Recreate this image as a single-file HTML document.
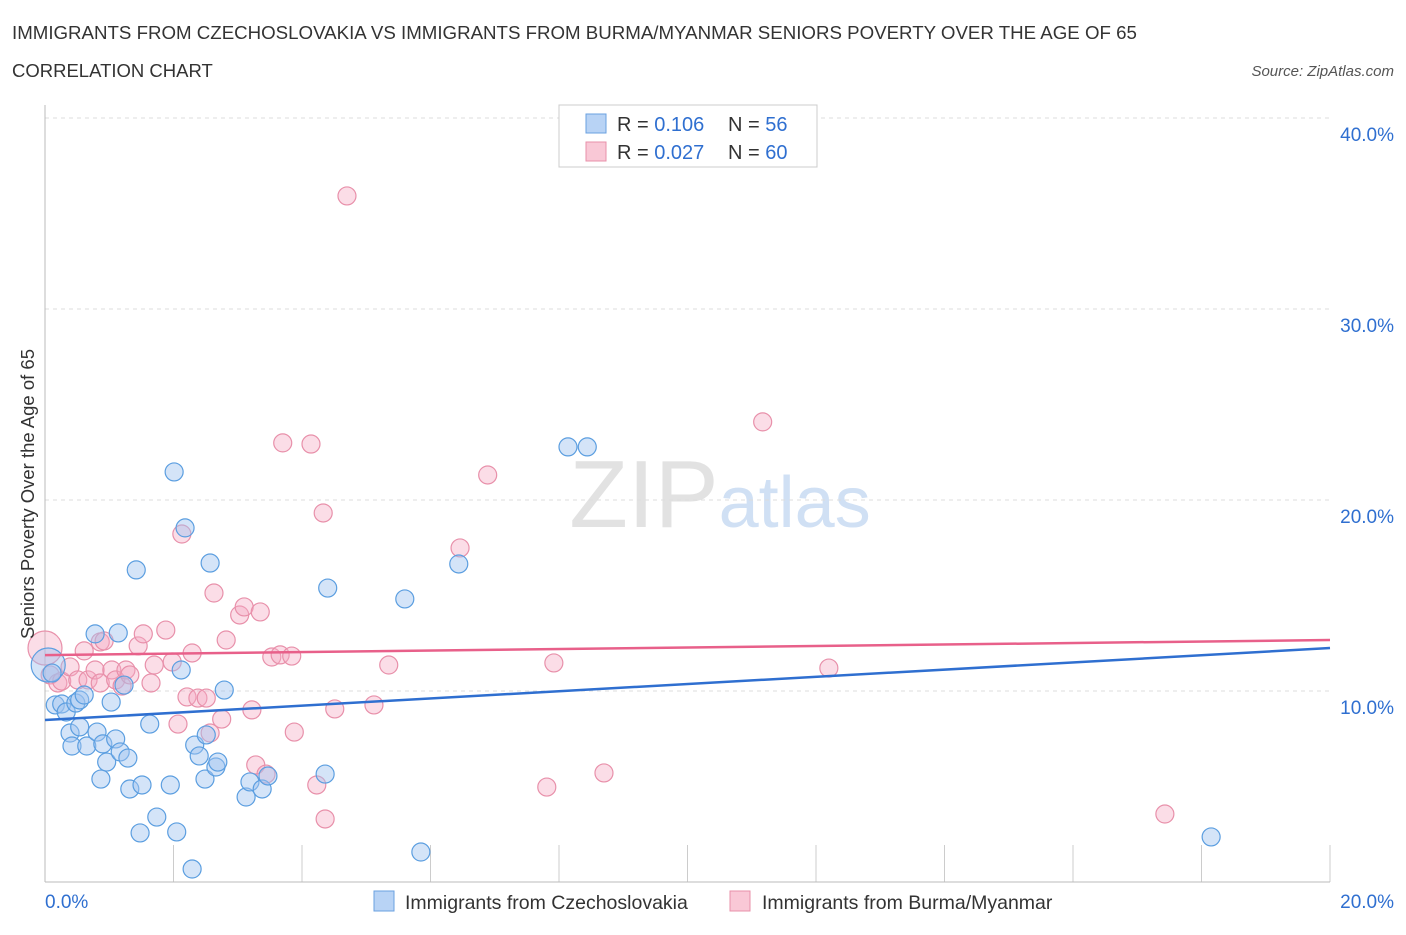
<!DOCTYPE html>
<html><head><meta charset="utf-8"><style>
body{margin:0;background:#fff;font-family:"Liberation Sans",sans-serif;}
svg text{font-family:"Liberation Sans",sans-serif;}
</style></head><body>
<svg id="chart" width="1406" height="930" xmlns="http://www.w3.org/2000/svg">
<text x="12" y="39" font-size="18.7" fill="#333">IMMIGRANTS FROM CZECHOSLOVAKIA VS IMMIGRANTS FROM BURMA/MYANMAR SENIORS POVERTY OVER THE AGE OF 65</text>
<text x="12" y="77" font-size="18.5" fill="#333">CORRELATION CHART</text>
<text x="1394" y="76" font-size="15" fill="#555" text-anchor="end" font-style="italic">Source: ZipAtlas.com</text>
<text x="720" y="527" font-size="96" fill="#e2e2e2" text-anchor="middle" font-family="Liberation Serif">ZIP<tspan fill="#d0e0f4" font-family="Liberation Sans" font-size="72">atlas</tspan></text>
<g id="grid"></g>
<g id="axes"></g>
<g id="marks"></g>
<text transform="translate(34,494) rotate(-90)" font-size="18.5" fill="#333" text-anchor="middle">Seniors Poverty Over the Age of 65</text>
<g>
<rect x="559" y="105" width="258" height="62" fill="#fff" stroke="#ccc"/>
<rect x="586" y="114" width="20" height="19" fill="#b8d3f5" stroke="#6aa0e0"/>
<rect x="586" y="142" width="20" height="19" fill="#f9c8d6" stroke="#e890aa"/>
<text x="617" y="131" font-size="20" fill="#333">R = <tspan fill="#2f6fd0">0.106</tspan><tspan x="728">N = </tspan><tspan fill="#2f6fd0">56</tspan></text>
<text x="617" y="159" font-size="20" fill="#333">R = <tspan fill="#2f6fd0">0.027</tspan><tspan x="728">N = </tspan><tspan fill="#2f6fd0">60</tspan></text>
</g>
<g>
<rect x="374" y="891" width="20" height="20" fill="#b8d3f5" stroke="#6aa0e0"/>
<text x="405" y="909" font-size="19.5" fill="#333">Immigrants from Czechoslovakia</text>
<rect x="730" y="891" width="20" height="20" fill="#f9c8d6" stroke="#e890aa"/>
<text x="762" y="909" font-size="19.5" fill="#333">Immigrants from Burma/Myanmar</text>
</g>
</svg>
<script>
const blueX=[.05,.11,.16,.26,.33,.39,.42,.48,.54,.54,.61,.65,.78,.81,.87,.90,.96,1.03,1.10,1.14,1.17,1.23,1.29,1.32,1.42,1.48,1.51,1.63,1.74,1.95,2.01,2.05,2.12,2.18,2.29,2.33,2.40,2.49,2.51,2.57,2.66,2.69,2.79,3.13,3.19,3.38,3.47,4.36,4.40,5.60,5.85,6.44,8.14,8.44,18.15];
const blueY=[11.36,10.94,9.27,9.32,8.90,7.80,7.12,9.37,9.53,8.12,9.79,7.12,12.99,7.85,5.39,7.23,6.28,9.42,7.49,13.04,6.81,10.31,6.49,4.87,16.34,2.57,5.08,8.27,3.40,5.08,21.47,2.62,11.10,18.54,0.68,7.17,6.60,5.39,7.70,16.70,6.02,6.28,10.05,4.45,5.24,4.87,5.55,5.65,15.39,14.82,1.57,16.65,22.78,22.78,2.36];
const pinkX=[0,.08,.20,.26,.39,.51,.61,.67,.78,.86,.86,.92,1.04,1.10,1.20,1.26,1.32,1.45,1.53,1.65,1.70,1.88,1.98,2.07,2.13,2.21,2.29,2.38,2.51,2.57,2.63,2.75,2.82,3.03,3.10,3.22,3.28,3.35,3.44,3.53,3.66,3.70,3.84,3.88,4.14,4.23,4.33,4.36,4.51,4.70,5.12,5.35,6.46,6.89,7.81,7.92,8.70,11.17,12.20,17.43];
const pinkY=[12.25,10.84,10.42,10.52,11.26,10.58,12.10,10.58,11.10,10.42,12.57,12.62,11.10,10.58,10.26,11.10,10.84,12.36,12.99,10.42,11.36,13.19,11.52,8.27,18.22,9.69,11.99,9.63,9.63,7.80,15.13,8.53,12.67,13.98,14.40,9.01,6.13,14.14,5.65,11.78,11.89,22.99,11.83,7.85,22.93,5.08,19.32,3.30,9.06,35.92,9.27,11.36,17.49,21.31,4.97,11.47,5.71,24.09,11.20,3.56];
const blueTrend=[8.48,12.25];
const pinkTrend=[11.88,12.67];
const yTicks=[10,20,30,40];
const xTickLabels=["0.0%","20.0%"];
const NS="http://www.w3.org/2000/svg";
const X0=45,X1=1330,Y0=882,YS=19.1;
const sx=v=>X0+(v/20)*(X1-X0);
const sy=v=>Y0-v*YS;
function mk(t,a,p){const e=document.createElementNS(NS,t);for(const k in a)e.setAttribute(k,a[k]);p.appendChild(e);return e;}
const grid=document.getElementById('grid'),axes=document.getElementById('axes'),marks=document.getElementById('marks');
yTicks.forEach(t=>{
  const l=mk('line',{x1:X0,x2:X1,y1:sy(t),y2:sy(t),stroke:'#ddd','stroke-dasharray':'4,4'},grid);
  
  
  const tx=mk('text',{x:1394,y:sy(t)+23,'font-size':19,fill:'#2f6fd0','text-anchor':'end'},axes);
  tx.textContent=t.toFixed(1)+'%';
  
  
});
for(let i=1;i<=10;i++){
  const x=sx(i*2);
  const l=mk('line',{x1:x,x2:x,y1:Y0-37,y2:Y0,stroke:'#ccc'},axes);
  
  
}
const ya=mk('line',{x1:X0,x2:X0,y1:105,y2:Y0,stroke:'#bbb'},axes);


const xa=mk('line',{x1:X0,x2:X1,y1:Y0,y2:Y0,stroke:'#bbb'},axes);


[[X0,'start',0],[1394,'end',1]].forEach(([x,a,i])=>{
  const t=mk('text',{x:x,y:908,'font-size':19,fill:'#2f6fd0','text-anchor':a},axes);
  t.textContent=xTickLabels[i];
  
  
});
function pts(xs,ys,fill,stroke,name){
  xs.forEach((v,i)=>{
    const r=i===0?17:9;
    const c=mk('circle',{cx:sx(v),cy:sy(ys[i]),r:r,fill:fill,stroke:stroke,'stroke-width':1.2},marks);
    
    
  });
}
pts(pinkX,pinkY,'rgba(246,170,195,0.4)','#e890aa','burma-point');
pts(blueX,blueY,'rgba(160,196,240,0.45)','#5b9ee0','czech-point');
const bl=mk('line',{x1:sx(0),x2:sx(20),y1:sy(blueTrend[0]),y2:sy(blueTrend[1]),stroke:'#2f6fd0','stroke-width':2.5},marks);


const pl=mk('line',{x1:sx(0),x2:sx(20),y1:sy(pinkTrend[0]),y2:sy(pinkTrend[1]),stroke:'#e8608a','stroke-width':2.5},marks);


</script>
</body></html>
